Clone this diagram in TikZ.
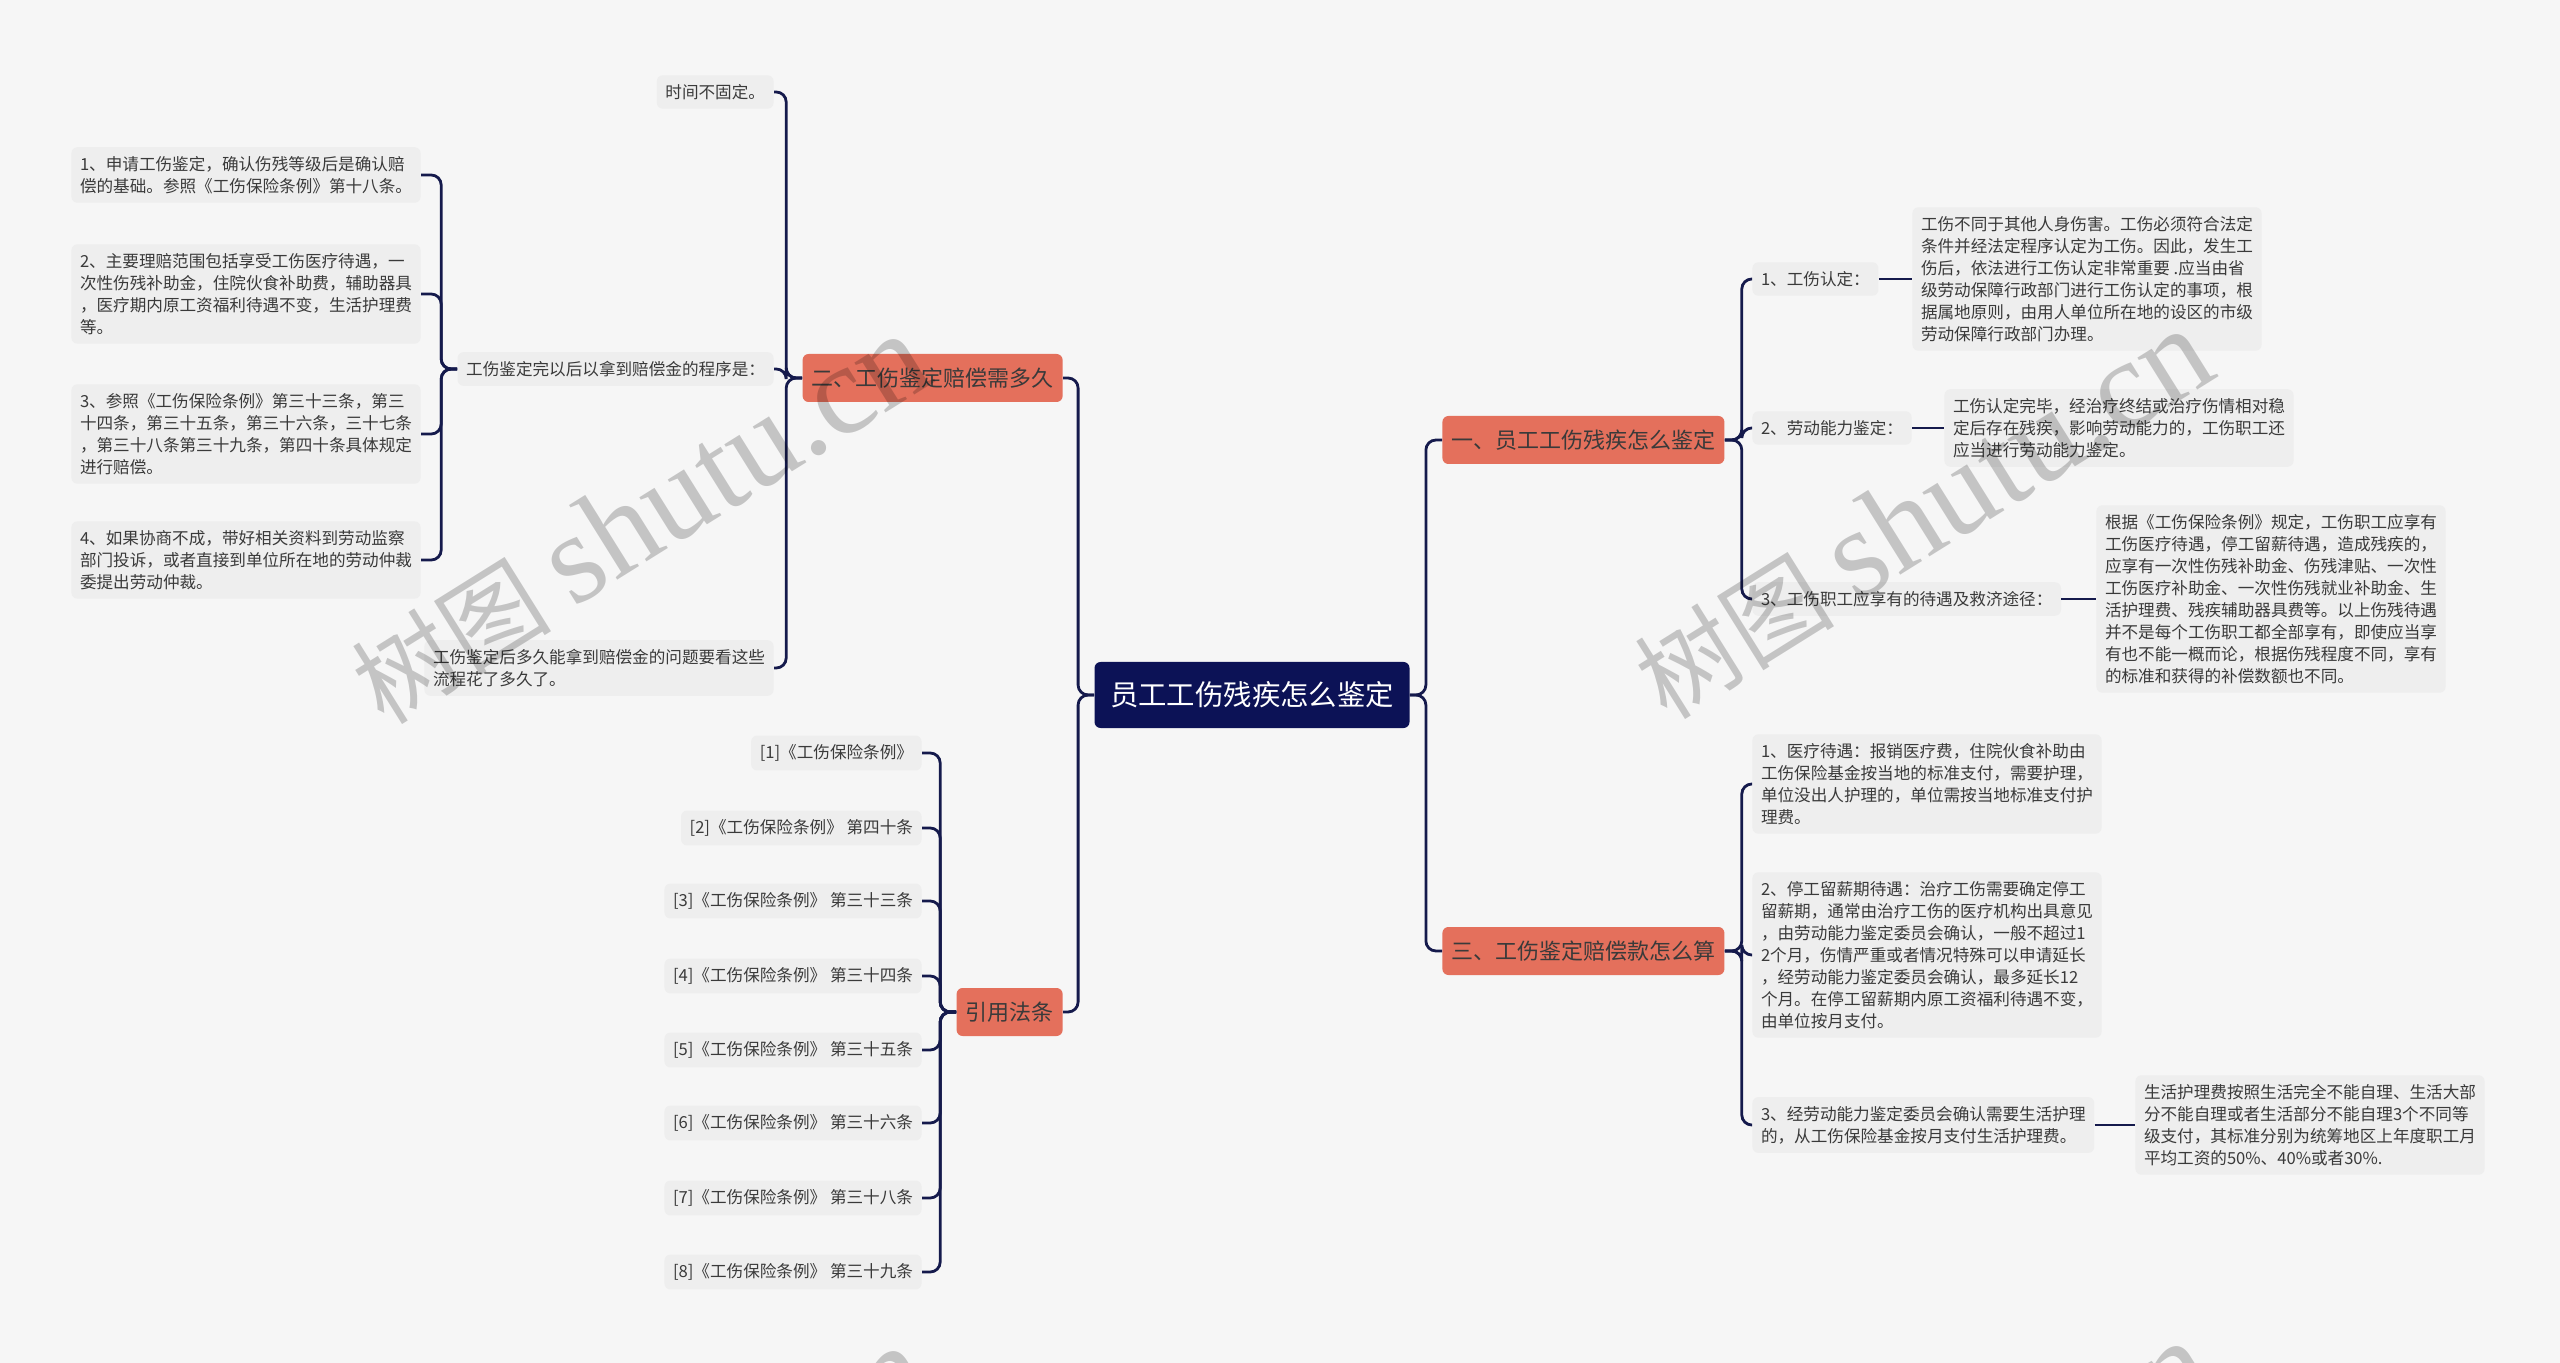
\documentclass[tikz,border=0pt]{standalone}
\usepackage{fontspec}
\setmainfont{Noto Sans CJK SC}
\newfontfamily\wmlatin{Liberation Serif}
\definecolor{bg}{HTML}{F6F6F6}
\definecolor{leaf}{HTML}{EEEEEE}
\definecolor{navy}{HTML}{0C1256}
\definecolor{linec}{HTML}{151A4C}
\definecolor{salmon}{HTML}{E4705C}
\definecolor{txt}{HTML}{3A3A3A}
\tikzset{
  leafbox/.style={fill=leaf, rounded corners=3pt, inner xsep=4.3pt, inner ysep=4.5pt, align=left, text=txt, font=\fontsize{8.3}{11}\selectfont},
  branchbox/.style={fill=salmon, rounded corners=3pt, inner xsep=4.5pt, minimum height=24pt, text=txt, font=\fontsize{11}{13}\selectfont},
  rootbox/.style={fill=navy, rounded corners=3pt, text=white, minimum width=157.5pt, minimum height=33pt, font=\fontsize{14.2}{16}\selectfont},
  conn/.style={draw=linec, line width=1.4pt, rounded corners=5pt},
  wm/.style={text=black, text opacity=0.2, font=\fontsize{50}{50}\selectfont}
}
\begin{document}
\begin{tikzpicture}[x=0.5pt,y=-0.5pt]
\useasboundingbox (0,0) rectangle (2560,1363);
\fill[bg] (0,0) rectangle (2560,1363);

% root and main branches
\node[rootbox] (root) at (1252,695) {员工工伤残疾怎么鉴定};
\node[branchbox, anchor=east] (L1) at (1063,378) {二、工伤鉴定赔偿需多久};
\node[branchbox, anchor=east] (L2) at (1063,1012) {引用法条};
\node[branchbox, anchor=west] (R1) at (1442,440) {一、员工工伤残疾怎么鉴定};
\node[branchbox, anchor=west] (R3) at (1442,951) {三、工伤鉴定赔偿款怎么算};

% left branch 1
\node[leafbox, anchor=east] (a1) at (774,92) {时间不固定。};
\node[leafbox, anchor=east] (a2) at (774,369) {工伤鉴定完以后以拿到赔偿金的程序是：};
\node[leafbox, anchor=east] (a3) at (774,668) {工伤鉴定后多久能拿到赔偿金的问题要看这些\\流程花了多久了。};

\node[leafbox, anchor=east] (p1) at (421,175) {1、申请工伤鉴定，确认伤残等级后是确认赔\\偿的基础。参照《工伤保险条例》第十八条。};
\node[leafbox, anchor=east] (p2) at (421,294) {2、主要理赔范围包括享受工伤医疗待遇，一\\次性伤残补助金，住院伙食补助费，辅助器具\\，医疗期内原工资福利待遇不变，生活护理费\\等。};
\node[leafbox, anchor=east] (p3) at (421,434) {3、参照《工伤保险条例》第三十三条，第三\\十四条，第三十五条，第三十六条，三十七条\\，第三十八条第三十九条，第四十条具体规定\\进行赔偿。};
\node[leafbox, anchor=east] (p4) at (421,560) {4、如果协商不成，带好相关资料到劳动监察\\部门投诉，或者直接到单位所在地的劳动仲裁\\委提出劳动仲裁。};

% left branch 2
\node[leafbox, anchor=east] (f1) at (922,753) {[1]《工伤保险条例》};
\node[leafbox, anchor=east] (f2) at (922,828) {[2]《工伤保险条例》 第四十条};
\node[leafbox, anchor=east] (f3) at (922,901) {[3]《工伤保险条例》 第三十三条};
\node[leafbox, anchor=east] (f4) at (922,976) {[4]《工伤保险条例》 第三十四条};
\node[leafbox, anchor=east] (f5) at (922,1050) {[5]《工伤保险条例》 第三十五条};
\node[leafbox, anchor=east] (f6) at (922,1123) {[6]《工伤保险条例》 第三十六条};
\node[leafbox, anchor=east] (f7) at (922,1198) {[7]《工伤保险条例》 第三十八条};
\node[leafbox, anchor=east] (f8) at (922,1272) {[8]《工伤保险条例》 第三十九条};

% right branch 1
\node[leafbox, anchor=west] (c1) at (1752,279) {1、工伤认定：};
\node[leafbox, anchor=west] (c2) at (1752,428) {2、劳动能力鉴定：};
\node[leafbox, anchor=west] (c3) at (1752,599) {3、工伤职工应享有的待遇及救济途径：};
\node[leafbox, anchor=west] (g1) at (1912,279) {工伤不同于其他人身伤害。工伤必须符合法定\\条件并经法定程序认定为工伤。因此，发生工\\伤后，依法进行工伤认定非常重要 .应当由省\\级劳动保障行政部门进行工伤认定的事项，根\\据属地原则，由用人单位所在地的设区的市级\\劳动保障行政部门办理。};
\node[leafbox, anchor=west] (g2) at (1944,428) {工伤认定完毕，经治疗终结或治疗伤情相对稳\\定后存在残疾，影响劳动能力的，工伤职工还\\应当进行劳动能力鉴定。};
\node[leafbox, anchor=west] (g3) at (2096,599) {根据《工伤保险条例》规定，工伤职工应享有\\工伤医疗待遇，停工留薪待遇，造成残疾的，\\应享有一次性伤残补助金、伤残津贴、一次性\\工伤医疗补助金、一次性伤残就业补助金、生\\活护理费、残疾辅助器具费等。以上伤残待遇\\并不是每个工伤职工都全部享有，即使应当享\\有也不能一概而论，根据伤残程度不同，享有\\的标准和获得的补偿数额也不同。};

% right branch 3
\node[leafbox, anchor=west] (d1) at (1752,784) {1、医疗待遇：报销医疗费，住院伙食补助由\\工伤保险基金按当地的标准支付，需要护理，\\单位没出人护理的，单位需按当地标准支付护\\理费。};
\node[leafbox, anchor=west] (d2) at (1752,955) {2、停工留薪期待遇：治疗工伤需要确定停工\\留薪期，通常由治疗工伤的医疗机构出具意见\\，由劳动能力鉴定委员会确认，一般不超过1\\2个月，伤情严重或者情况特殊可以申请延长\\，经劳动能力鉴定委员会确认，最多延长12\\个月。在停工留薪期内原工资福利待遇不变，\\由单位按月支付。};
\node[leafbox, anchor=west] (d3) at (1752,1125) {3、经劳动能力鉴定委员会确认需要生活护理\\的，从工伤保险基金按月支付生活护理费。};
\node[leafbox, anchor=west] (e3) at (2135,1125) {生活护理费按照生活完全不能自理、生活大部\\分不能自理或者生活部分不能自理3个不同等\\级支付，其标准分别为统筹地区上年度职工月\\平均工资的50\%、40\%或者30\%.};

% connectors
\foreach \b in {L1,L2} \draw[conn] (root.west) -- ++(-16,0) |- (\b.east);
\foreach \b in {R1,R3} \draw[conn] (root.east) -- ++(16,0) |- (\b.west);
\foreach \c in {a1,a2,a3} \draw[conn] (L1.west) -- ++(-16,0) |- (\c.east);
\foreach \c in {p1,p2,p3,p4} \draw[conn] (a2.west) -- ++(-16,0) |- (\c.east);
\foreach \c in {f1,f2,f3,f4,f5,f6,f7,f8} \draw[conn] (L2.west) -- ++(-16,0) |- (\c.east);
\foreach \c in {c1,c2,c3} \draw[conn] (R1.east) -- ++(17,0) |- (\c.west);
\foreach \c in {d1,d2,d3} \draw[conn] (R3.east) -- ++(17,0) |- (\c.west);
\draw[conn] (c1.east) -- (g1.west);
\draw[conn] (c2.east) -- (g2.west);
\draw[conn] (c3.east) -- (g3.west);
\draw[conn] (d3.east) -- (e3.west);

% watermarks
\begin{scope}
\clip (0,0) rectangle (2560,1363);
\foreach \p in {(640,519),(1923,514),(640,1531),(1923,1526)}
  \node[wm, rotate=32] at \p {树图 {\wmlatin\fontsize{64}{64}\selectfont shutu.cn}};
\end{scope}
\end{tikzpicture}
\end{document}
